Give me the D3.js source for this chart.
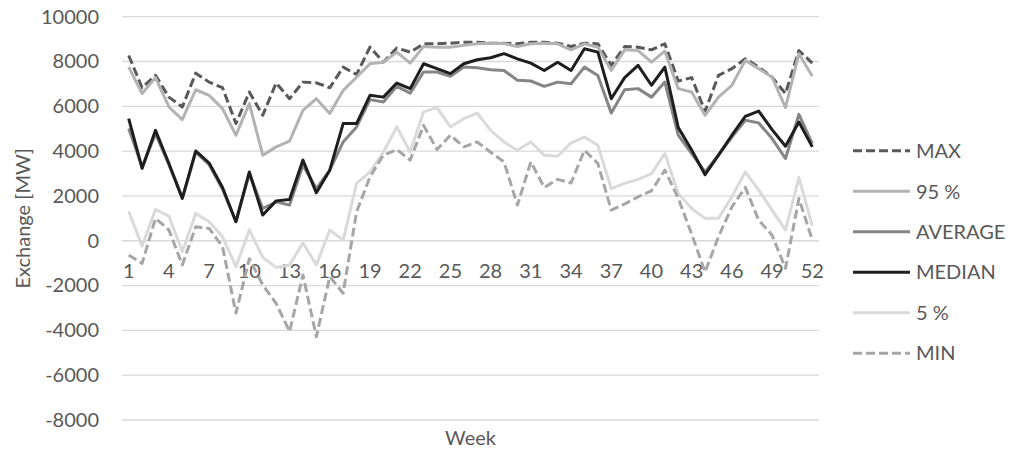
<!DOCTYPE html>
<html>
<head>
<meta charset="utf-8">
<script src="https://cdn.jsdelivr.net/npm/d3@7"></script>
<style>
  html, body { margin: 0; padding: 0; background: #fff; }
  svg { display: block; }
  text { font-family: Lato, "Open Sans", sans-serif; fill: #595959; }
</style>
</head>
<body>
<svg id="chart" width="1013" height="450"></svg>
<script>
// Weekly exchange statistics [MW]
const weeks = d3.range(1, 53);
const tickWeeks = [1, 4, 7, 10, 13, 16, 19, 22, 25, 28, 31, 34, 37, 40, 43, 46, 49, 52];
const yTicks = [-8000, -6000, -4000, -2000, 0, 2000, 4000, 6000, 8000, 10000];

const maxVals = [8270, 6830, 7380, 6410, 5970, 7480, 7080, 6830, 5230, 6640, 5600, 7040, 6340, 7080, 7050, 6830, 7750, 7420, 8640, 7970, 8600, 8420, 8790, 8790, 8820, 8860, 8860, 8820, 8820, 8790, 8860, 8860, 8820, 8670, 8820, 8790, 7830, 8670, 8640, 8520, 8790, 7130, 7280, 5780, 7380, 7680, 8120, 7750, 7300, 6570, 8490, 7930];
const p95Vals = [7750, 6570, 7280, 5970, 5410, 6740, 6490, 5900, 4710, 6120, 3820, 4190, 4450, 5820, 6340, 5680, 6710, 7300, 7900, 7970, 8420, 7930, 8670, 8640, 8640, 8720, 8790, 8820, 8800, 8670, 8790, 8820, 8790, 8520, 8790, 8640, 7600, 8520, 8490, 7970, 8460, 6790, 6640, 5600, 6410, 6940, 8050, 7680, 7300, 5940, 8350, 7340];
const avgVals = [5010, 3300, 4780, 3400, 1900, 3950, 3400, 2300, 850, 3000, 1440, 1740, 1590, 3370, 2330, 3150, 4410, 5080, 6300, 6190, 6890, 6590, 7530, 7530, 7340, 7750, 7720, 7630, 7600, 7160, 7130, 6890, 7080, 7010, 7750, 7380, 5700, 6740, 6790, 6410, 7080, 4710, 3890, 3070, 3820, 4630, 5380, 5260, 4560, 3670, 5640, 4340];
const medianVals = [5450, 3230, 4930, 3450, 1890, 4010, 3470, 2380, 850, 3070, 1150, 1780, 1840, 3600, 2140, 3150, 5230, 5230, 6490, 6410, 7040, 6790, 7900, 7680, 7460, 7900, 8080, 8170, 8350, 8120, 7930, 7600, 7970, 7600, 8570, 8420, 6340, 7280, 7830, 6940, 7750, 5050, 4050, 2950, 3820, 4710, 5550, 5790, 4960, 4220, 5300, 4190];
const p5Vals = [1320, -240, 1400, 1100, -490, 1220, 850, 180, -1160, 480, -740, -1190, -1080, -90, -1080, 480, 30, 2560, 3070, 3950, 5080, 3970, 5750, 5940, 5080, 5450, 5700, 4930, 4410, 4040, 4410, 3820, 3770, 4370, 4630, 4260, 2330, 2560, 2740, 3000, 3890, 2110, 1440, 1000, 1000, 1960, 3070, 2260, 1370, 480, 2820, 660];
const minVals = [-640, -1010, 1000, 480, -1080, 620, 550, -270, -3230, -800, -1970, -2790, -4050, -1530, -4280, -1600, -2340, 1290, 2850, 3820, 4070, 3600, 5150, 4070, 4710, 4190, 4410, 3950, 3520, 1590, 3520, 2380, 2740, 2580, 4040, 3450, 1370, 1640, 1960, 2230, 3150, 1900, 300, -1400, 180, 1510, 2380, 920, 250, -1230, 1890, 30];

const seriesNames = ["MAX", "95 %", "AVERAGE", "MEDIAN", "5 %", "MIN"];
const seriesColors = ["#595959", "#b3b3b3", "#858585", "#1e1e1e", "#dadada", "#a6a6a6"];
const seriesDashes = ["9,4", null, null, null, null, "9,4"];
const seriesValues = [maxVals, p95Vals, avgVals, medianVals, p5Vals, minVals];

const series = seriesNames.map((name, i) => ({
  name, color: seriesColors[i], dash: seriesDashes[i], values: seriesValues[i]
}));

const svg = d3.select("#chart");
const plot = { left: 122, right: 819, top: 16.7, bottom: 420 };

const x = d3.scaleBand().domain(weeks).range([plot.left, plot.right]).paddingInner(0).paddingOuter(0);
const y = d3.scaleLinear().domain([-8000, 10000]).range([plot.bottom, plot.top]);
const cx = w => x(w) + x.bandwidth() / 2;

// horizontal gridlines
svg.append("g")
  .selectAll("line")
  .data(yTicks)
  .join("line")
  .attr("x1", plot.left).attr("x2", plot.right)
  .attr("y1", d => y(d)).attr("y2", d => y(d))
  .attr("stroke", "#d9d9d9").attr("stroke-width", 1.3);

// y axis labels (plain hyphen for negatives)
const yAxis = d3.axisLeft(y).tickValues(yTicks).tickSize(0).tickPadding(0).tickFormat(d => String(d));
svg.append("g")
  .attr("transform", `translate(${plot.left - 23},0)`)
  .call(yAxis)
  .call(g => g.select(".domain").remove())
  .call(g => g.selectAll("text")
    .style("font-family", "Lato, sans-serif")
    .attr("font-size", 20)
    .attr("fill", "#595959"));

// x axis labels, along the zero line
const xAxis = d3.axisBottom(x).tickValues(tickWeeks).tickSize(0).tickPadding(0);
svg.append("g")
  .attr("transform", `translate(0,${y(0)})`)
  .call(xAxis)
  .call(g => g.select(".domain").remove())
  .call(g => g.selectAll("text")
    .attr("dy", null)
    .attr("y", 37)
    .style("font-family", "Lato, sans-serif")
    .attr("font-size", 20)
    .attr("fill", "#595959"));

// axis titles
svg.append("text")
  .attr("transform", `translate(30,${(plot.top + plot.bottom) / 2}) rotate(-90)`)
  .attr("text-anchor", "middle")
  .attr("font-size", 20)
  .text("Exchange [MW]");

svg.append("text")
  .attr("x", (plot.left + plot.right) / 2)
  .attr("y", 445)
  .attr("text-anchor", "middle")
  .attr("font-size", 20)
  .text("Week");

// series lines
const line = d3.line()
  .x((d, i) => cx(weeks[i]))
  .y(d => y(d));

svg.append("g")
  .selectAll("path")
  .data(series)
  .join("path")
  .attr("d", s => line(s.values))
  .attr("fill", "none")
  .attr("stroke", s => s.color)
  .attr("stroke-width", 3)
  .attr("stroke-linejoin", "round")
  .attr("stroke-dasharray", s => s.dash);

// legend
const legendRows = [150.7, 191.3, 231.8, 272.2, 312.8, 353.2];
const legend = svg.append("g")
  .selectAll("g")
  .data(series)
  .join("g")
  .attr("transform", (s, i) => `translate(0,${legendRows[i]})`);

legend.append("line")
  .attr("x1", 853).attr("x2", 910)
  .attr("y1", 0).attr("y2", 0)
  .attr("stroke", s => s.color)
  .attr("stroke-width", 3)
  .attr("stroke-dasharray", s => s.dash);

legend.append("text")
  .attr("x", 916)
  .attr("y", 0)
  .attr("dy", "0.36em")
  .attr("font-size", 20)
  .text(s => s.name);
</script>
</body>
</html>
